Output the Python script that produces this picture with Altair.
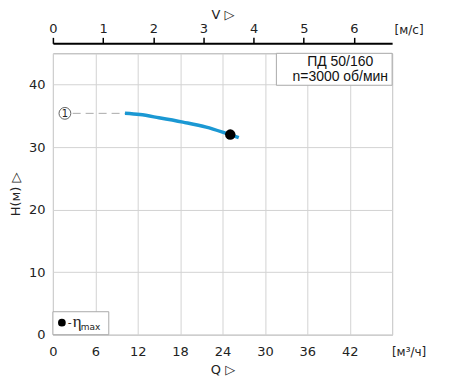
import altair as alt
import pandas as pd

# Curve data (Q in m3/h, H in m)
curve_q = [10.2, 12.3, 15.0, 18.4, 21.7, 24.0, 26.3]
curve_h = [35.4, 35.2, 34.7, 34.0, 33.2, 32.4, 31.5]
best_q = [25.1]
best_h = [32.0]
lead_q = [2.8, 10.2]
lead_h = [35.4, 35.4]
marker_q = [1.7]
marker_h = [35.4]
q_ticks = [0, 6, 12, 18, 24, 30, 36, 42, 48]
h_ticks = [0, 5, 10, 15, 20, 25, 30, 35, 40, 45]
v_ticks = [0, 0.5, 1, 1.5, 2, 2.5, 3, 3.5, 4, 4.5, 5, 5.5, 6, 6.5]
title_lines = ["ПД 50/160", "n=3000 об/мин"]

W, H = 340, 282
FONT = "DejaVu Sans"
GRID = "#d3d3d3"

xs = alt.Scale(domain=[0, 48], nice=False, zero=False)
ys = alt.Scale(domain=[0, 45], nice=False)

x_axis = alt.Axis(values=q_ticks, labelExpr="datum.value < 48 ? datum.label : ''",
                  grid=True, gridColor=GRID, domain=False, ticks=False,
                  labelFont=FONT, labelFontSize=13, labelColor="#222", labelPadding=11,
                  labelFlush=False, title="Q ▷", titleFont=FONT, titleFontSize=13,
                  titleFontWeight="normal", titleColor="#222", titlePadding=5)
y_axis = alt.Axis(values=h_ticks, labelExpr="(datum.value % 10 == 0 && datum.value < 45) ? datum.label : ''",
                  grid=True, gridColor=GRID, domain=False, ticks=False,
                  labelFont=FONT, labelFontSize=13, labelColor="#222", labelPadding=8,
                  title="H(м) ▷", titleFont=FONT, titleFontSize=13,
                  titleFontWeight="normal", titleColor="#222", titlePadding=6)

df_curve = pd.DataFrame({"Q": curve_q, "H": curve_h})
base = alt.Chart(df_curve).mark_line(color="#1b98d3", strokeWidth=3.5, interpolate="monotone").encode(
    x=alt.X("Q:Q", scale=xs, axis=x_axis),
    y=alt.Y("H:Q", scale=ys, axis=y_axis),
)

lead = alt.Chart(pd.DataFrame({"Q": lead_q, "H": lead_h})).mark_line(
    color="#aaaaaa", strokeWidth=1, strokeDash=[8, 5]).encode(
    x=alt.X("Q:Q", scale=xs), y=alt.Y("H:Q", scale=ys))

marker_df = pd.DataFrame({"Q": marker_q, "H": marker_h, "t": ["1"]})
marker_c = alt.Chart(marker_df).mark_point(shape="circle", size=140, filled=False,
                                           color="#222", strokeWidth=1).encode(
    x=alt.X("Q:Q", scale=xs), y=alt.Y("H:Q", scale=ys))
marker_t = alt.Chart(marker_df).mark_text(font=FONT, fontSize=10, color="#222", dy=0.5).encode(
    x=alt.X("Q:Q", scale=xs), y=alt.Y("H:Q", scale=ys), text="t:N")

best = alt.Chart(pd.DataFrame({"Q": best_q, "H": best_h})).mark_circle(
    size=110, color="black", opacity=1).encode(
    x=alt.X("Q:Q", scale=xs), y=alt.Y("H:Q", scale=ys))

# Top-right label box
box = alt.Chart(pd.DataFrame({"a": [0]})).mark_rect(fill="white", stroke="#aaaaaa", strokeWidth=1).encode(
    x=alt.value(224), x2=alt.value(W), y=alt.value(0), y2=alt.value(32))
box_t = alt.Chart(pd.DataFrame({"t": title_lines, "yy": [9, 24]})).mark_text(
    font="Liberation Sans", fontSize=14, color="#111").encode(
    x=alt.value(288), y=alt.Y("yy:Q", scale=None), text="t:N")

# Legend box bottom-left
lbox = alt.Chart(pd.DataFrame({"a": [0]})).mark_rect(fill="white", stroke="#aaaaaa", strokeWidth=1).encode(
    x=alt.value(0), x2=alt.value(56), y=alt.value(259), y2=alt.value(H))
ldot = alt.Chart(pd.DataFrame({"a": [0]})).mark_circle(size=60, color="black", opacity=1).encode(
    x=alt.value(9), y=alt.value(270))
ltxt = alt.Chart(pd.DataFrame({"a": [0]})).mark_text(
    font=FONT, fontSize=11, color="#222", align="left").encode(
    x=alt.value(15), y=alt.value(270), text=alt.value("-"))
leta = alt.Chart(pd.DataFrame({"a": [0]})).mark_text(
    font="Liberation Serif", fontSize=17, color="#222", align="left").encode(
    x=alt.value(20), y=alt.value(269), text=alt.value("η"))
lmax = alt.Chart(pd.DataFrame({"a": [0]})).mark_text(
    font=FONT, fontSize=9, color="#222", align="left").encode(
    x=alt.value(28), y=alt.value(274), text=alt.value("max"))

# Unit labels
units = alt.Chart(pd.DataFrame({"t": ["[м/с]", "[м³/ч]"], "yy": [-23, 299]})).mark_text(
    font=FONT, fontSize=12, color="#222").encode(
    x=alt.value(357), y=alt.Y("yy:Q", scale=None), text="t:N")

# Top velocity axis
v_layer = alt.Chart(pd.DataFrame({"V": [0.0], "H": [0.0]})).mark_point(opacity=0).encode(
    x=alt.X("V:Q", scale=alt.Scale(domain=[0, 6.76], nice=False, zero=False),
            axis=alt.Axis(orient="top", values=v_ticks, format="d",
                          labelExpr="datum.value % 1 == 0 ? format(datum.value, 'd') : ''",
                          grid=False, domain=True, domainColor="black", domainWidth=2,
                          ticks=True, tickColor="black", tickWidth=1.5, tickSize=6,
                          offset=10, labelFont=FONT, labelFontSize=13, labelColor="#222",
                          labelPadding=2, labelFlush=False, title="V ▷", titleFont=FONT,
                          titleFontSize=13, titleFontWeight="normal", titleColor="#222",
                          titlePadding=1)),
    y=alt.Y("H:Q", scale=ys),
)

main = alt.layer(lead, base, marker_c, marker_t, best, box, box_t, lbox, ldot, ltxt, leta, lmax, units)
chart = alt.layer(main, v_layer).resolve_scale(x="independent").properties(
    width=W, height=H,
    autosize=alt.AutoSizeParams(type="none"),
    padding={"left": 45, "top": 45, "right": 50, "bottom": 45},
    background="white",
).configure_view(stroke="#aaaaaa", strokeWidth=1)

chart.save("out.html", embed_options={"renderer": "svg", "actions": False})
